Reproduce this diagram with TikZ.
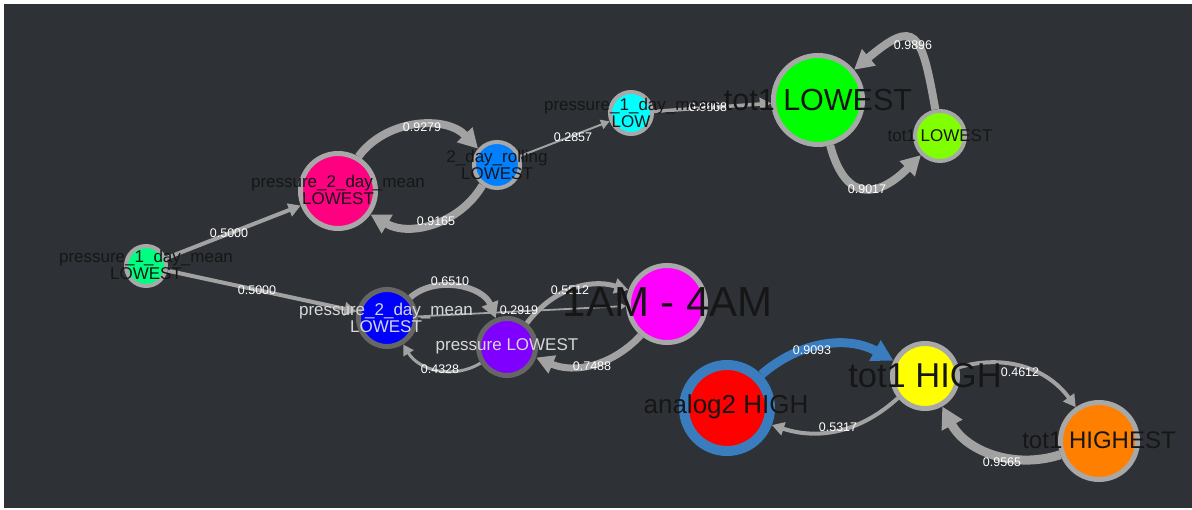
\documentclass[tikz,border=0pt]{standalone}
\usepackage{fontspec}
\setmainfont{Liberation Sans}
\usetikzlibrary{arrows.meta}
\pgfdeclarelayer{back}
\pgfdeclarelayer{edges}
\pgfsetlayers{back,edges,main}
\definecolor{bg}{RGB}{46,50,54}
\definecolor{eg}{RGB}{162,162,162}
\definecolor{rg}{RGB}{168,168,168}
\definecolor{dg}{RGB}{102,102,102}
\definecolor{ringblue}{RGB}{58,125,190}
\definecolor{txt}{RGB}{22,22,22}
\definecolor{ltxt}{RGB}{215,215,215}
\definecolor{cgreenA}{RGB}{0,255,128}
\definecolor{cpink}{RGB}{255,0,128}
\definecolor{croll}{RGB}{0,128,255}
\definecolor{ccyan}{RGB}{0,255,255}
\definecolor{cgreenB}{RGB}{0,255,0}
\definecolor{cchart}{RGB}{128,255,0}
\definecolor{cblue}{RGB}{0,0,255}
\definecolor{cpurple}{RGB}{128,0,255}
\definecolor{cmag}{RGB}{255,0,255}
\definecolor{cred}{RGB}{255,0,0}
\definecolor{cyel}{RGB}{255,255,0}
\definecolor{corange}{RGB}{255,128,0}
\begin{document}
\begin{tikzpicture}[x=1pt,y=1pt,
  nd/.style={circle,inner sep=0pt,draw=rg,line width=4.5pt},
  ndd/.style={circle,inner sep=0pt,draw=dg,line width=5pt},
  ed/.style={draw=eg,line width=#1,-{Triangle[length=5pt 1.8,width=6pt 1.8]}},
  el/.style={text=white,font=\fontsize{12.5}{12.5}\selectfont,inner sep=0pt},
  lb/.style={text=txt,align=center,font=\fontsize{17}{17}\selectfont,inner sep=0pt},
  lbl/.style={lb,text=ltxt}]
\begin{pgfonlayer}{back}
\fill[white] (0,0) rectangle (1192,-510);
\fill[bg] (4,-4) rectangle (1192,-508);
\end{pgfonlayer}
\useasboundingbox (0,0) rectangle (1192,-510);

% nodes (circles)
\node[nd,line width=4pt,minimum size=40pt,fill=cgreenA] (g1) at (146,-266) {};
\node[nd,line width=5pt,minimum size=75pt,fill=cpink] (pink) at (338,-191) {};
\node[nd,line width=4pt,minimum size=46pt,fill=croll] (roll) at (497,-165) {};
\node[nd,line width=4pt,minimum size=42pt,fill=ccyan] (cyan) at (631,-113) {};
\node[nd,line width=5pt,minimum size=89pt,fill=cgreenB] (bgreen) at (818,-100) {};
\node[nd,line width=4pt,minimum size=50pt,fill=cchart] (chart) at (940,-136) {};
\node[ndd,minimum size=57pt,fill=cblue] (bp2) at (387,-318) {};
\node[ndd,minimum size=57pt,fill=cpurple] (purple) at (507,-347) {};
\node[nd,line width=5pt,minimum size=77pt,fill=cmag] (mag) at (667,-304) {};
\node[nd,draw=ringblue,line width=10pt,minimum size=86pt,fill=cred] (red) at (727,-408) {};
\node[nd,line width=5pt,minimum size=65pt,fill=cyel] (yellow) at (925,-376) {};
\node[nd,line width=5pt,minimum size=77pt,fill=corange] (orange) at (1099,-441) {};

% edges and their labels
\begin{pgfonlayer}{edges}
\draw[ed=4pt] (g1) -- (pink);
\draw[ed=4pt] (g1) -- (bp2);
\draw[ed=8pt] (pink) to[bend left=50] (roll);
\draw[ed=8pt] (roll) to[bend left=45] (pink);
\draw[ed=2pt] (roll) -- (cyan);
\draw[ed=3.5pt] (cyan) -- (bgreen);
\draw[ed=8pt] (bgreen) to[out=-75,in=-135,distance=60pt] (chart);
\draw[ed=8pt] (chart) to[out=100,in=40,distance=80pt] (bgreen);
\draw[ed=6pt] (bp2) to[bend left=55] (purple);
\draw[ed=3pt] (purple) to[bend left=45] (bp2);
\draw[ed=1.8pt] (bp2) -- (mag);
\draw[ed=5pt] (purple) to[bend left=35] (mag);
\draw[ed=7pt] (mag) to[bend left=35] (purple);
\draw[ed=9pt,draw=ringblue] (red) to[bend left=35] (yellow);
\draw[ed=4pt] (yellow) to[bend left=30] (red);
\draw[ed=4pt] (yellow) to[bend left=35] (orange);
\draw[ed=9pt] (orange) to[bend left=40] (yellow);

\node[el] (l1) at (229,-233) {0.5000};
\node[el] (l2) at (257,-290) {0.5000};
\node[el] (l3) at (422,-127) {0.9279};
\node[el] (l4) at (436,-221) {0.9165};
\node[el] (l5) at (573,-137) {0.2857};
\node[el] (l6) at (708,-107) {0.9868};
\node[el] (l7) at (913,-45) {0.9896};
\node[el] (l8) at (867,-189) {0.9017};
\node[el] (l9) at (450,-281) {0.6510};
\node[el] (l10) at (519,-310) {0.2919};
\node[el] (l11) at (570,-290) {0.5512};
\node[el] (l12) at (440,-369) {0.4328};
\node[el] (l13) at (592,-366) {0.7488};
\node[el] (l14) at (812,-350) {0.9093};
\node[el] (l15) at (838,-427) {0.5317};
\node[el] (l16) at (1020,-372) {0.4612};
\node[el] (l17) at (1002,-462) {0.9565};
\end{pgfonlayer}

% node labels
\node[lb] (t1) at (146,-265) {pressure\_1\_day\_mean\\LOWEST};
\node[lb] (t2) at (338,-190) {pressure\_2\_day\_mean\\LOWEST};
\node[lb] (t3) at (497,-165) {2\_day\_rolling\\LOWEST};
\node[lb] (t4) at (631,-113) {pressure\_1\_day\_mean\\LOW};
\node[lb,font=\fontsize{30.5}{30.5}\selectfont] (t5) at (818,-100) {tot1 LOWEST};
\node[lb] (t6) at (940,-136) {tot1 LOWEST};
\node[lbl] (t7) at (386,-318) {pressure\_2\_day\_mean\\LOWEST};
\node[lbl] (t8) at (507,-346) {pressure LOWEST};
\node[lb,font=\fontsize{42}{42}\selectfont] (t9) at (668,-302) {1AM - 4AM};
\node[lb,font=\fontsize{26}{26}\selectfont] (t10) at (726,-407) {analog2 HIGH};
\node[lb,font=\fontsize{34.5}{34.5}\selectfont] (t11) at (925,-376) {tot1 HIGH};
\node[lb,font=\fontsize{24}{24}\selectfont] (t12) at (1099,-440) {tot1 HIGHEST};
\end{tikzpicture}
\end{document}
